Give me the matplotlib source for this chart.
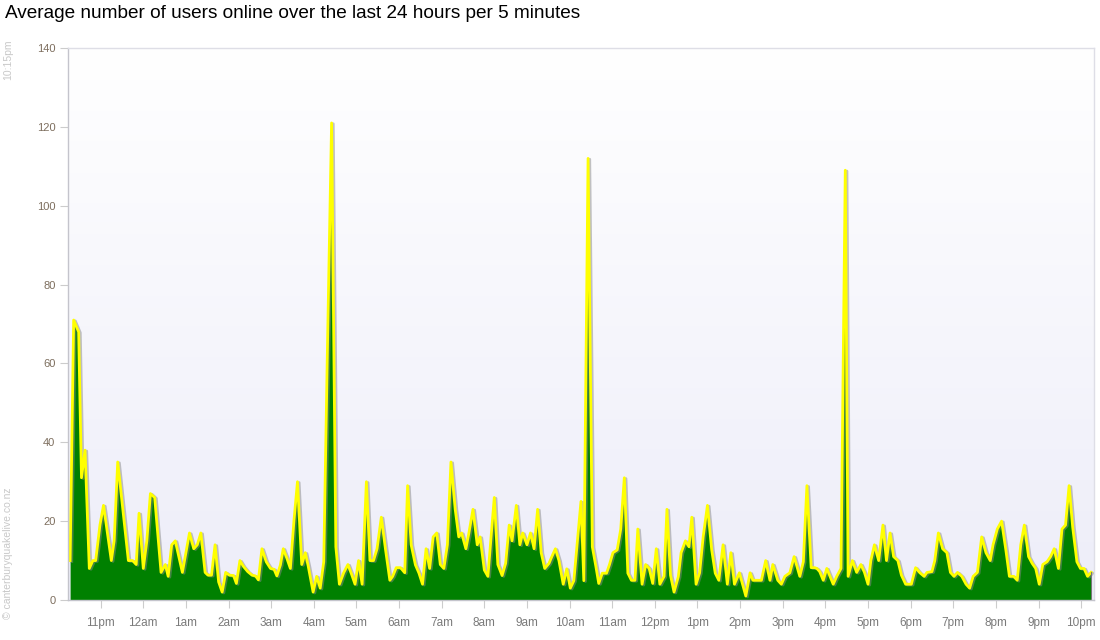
import matplotlib
matplotlib.use("Agg")
import matplotlib.pyplot as plt
import matplotlib.patheffects as pe
import numpy as np

plt.rcParams["font.family"] = ["Liberation Sans", "DejaVu Sans"]

TITLE = "Average number of users online over the last 24 hours per 5 minutes"

# minutes after 22:15 for each vertex of the line, and users online at that moment
minutes = [
    2, 7, 14, 18, 23, 29, 34, 38, 44, 49, 60, 64, 69, 84, 90, 95, 99, 105, 110, 115,
    121, 130, 136, 140, 145, 150, 155, 160, 170, 176, 181, 186, 192, 196, 201, 206, 211, 216, 221, 226,
    232, 236, 241, 246, 252, 258, 263, 267, 272, 278, 284, 289, 293, 298, 302, 307, 312, 317, 322, 328,
    333, 337, 344, 349, 354, 359, 364, 370, 376, 381, 387, 393, 398, 403, 408, 413, 419, 424, 429, 434,
    440, 446, 452, 456, 461, 467, 473, 477, 482, 488, 493, 498, 503, 508, 513, 518, 523, 528, 533, 538,
    544, 549, 553, 559, 563, 569, 575, 579, 585, 590, 595, 599, 604, 610, 615, 620, 624, 630, 635, 639,
    645, 650, 655, 660, 665, 670, 676, 680, 685, 690, 696, 701, 706, 711, 715, 721, 725, 731, 737, 742,
    746, 751, 757, 761, 766, 772, 777, 782, 787, 792, 797, 801, 807, 812, 817, 822, 827, 832, 838, 842,
    847, 852, 858, 862, 868, 873, 877, 883, 888, 893, 899, 905, 910, 915, 921, 927, 932, 937, 944, 953,
    959, 963, 975, 981, 987, 991, 998, 1003, 1008, 1015, 1021, 1029, 1034, 1039, 1045, 1050, 1053, 1057, 1062, 1067,
    1076, 1081, 1087, 1093, 1097, 1103, 1109, 1115, 1120, 1125, 1129, 1134, 1140, 1146, 1151, 1156, 1161, 1167, 1172, 1178,
    1186, 1192, 1198, 1204, 1208, 1215, 1219, 1224, 1230, 1236, 1241, 1246, 1251, 1257, 1263, 1268, 1273, 1279, 1285, 1291,
    1297, 1301, 1307, 1313, 1319, 1324, 1330, 1335, 1340, 1345, 1351, 1356, 1361, 1366, 1371, 1377, 1382, 1387, 1393, 1398,
    1403, 1408, 1413, 1419, 1424, 1429, 1434, 1439,
]
users = [
    10, 71, 68, 31, 38, 8, 10, 10, 19, 24, 10, 15, 35, 10, 10, 9, 22, 8, 15, 27,
    26, 7, 9, 6, 14, 15, 11, 7, 17, 13, 14, 17, 7, 6.3, 6.3, 14, 4.6, 2, 7, 6.3,
    6.2, 4.2, 10, 8.5, 7.2, 6.3, 6.1, 5.1, 13, 9.7, 8, 7.8, 6.1, 8.9, 13, 10.6, 8, 20, 30, 9,
    12, 8.7, 2, 6, 3, 9.7, 62, 121, 13.5, 4, 6.9, 9, 6.6, 4, 10, 4, 30, 10, 10, 13,
    21, 12.7, 5, 6, 8.2, 8.2, 6.9, 29, 14, 8.9, 6.8, 4, 13, 8, 16, 17, 9, 8, 14, 35,
    23, 16, 17, 13, 16.7, 23, 14, 16, 7.6, 6, 17, 26, 9, 6.2, 9.3, 19, 15, 24, 14, 17,
    14, 17, 13, 23, 12, 8, 9.3, 11, 13, 10, 4, 7.9, 3, 4.9, 13, 25, 4.9, 112, 13.5, 8.5,
    4.2, 6.8, 6.8, 8.9, 12, 12.7, 18, 31, 6.8, 5, 5, 18, 4, 9, 8, 4.2, 13, 4, 6, 23,
    6.3, 2, 5.9, 12, 15, 13.5, 21, 4, 6.9, 16, 24, 12.7, 6.8, 5, 14, 4, 12, 4, 6.9, 1,
    6.9, 5, 5, 10, 5, 9, 5, 4, 6, 6.9, 11, 6, 9.7, 29, 8.2, 8.2, 8, 7.2, 5, 8,
    4, 6, 8, 109, 6, 10, 7, 9, 7, 4, 10, 14, 10, 19, 10, 17, 11, 10, 6.3, 4,
    4, 8.2, 6.9, 6, 7, 7.2, 10, 17, 13, 12, 7, 6, 7, 6, 4, 3, 6, 7, 16, 12,
    10, 14, 18, 20, 12.7, 6, 6, 5, 14, 19, 11, 9.3, 8, 4, 9, 9.7, 11, 13, 8, 18,
    19, 29, 18.6, 9.7, 8, 8, 6, 7,
]
hour_labels = ["11pm", "12am", "1am", "2am", "3am", "4am", "5am", "6am", "7am", "8am", "9am", "10am",
               "11am", "12pm", "1pm", "2pm", "3pm", "4pm", "5pm", "6pm", "7pm", "8pm", "9pm", "10pm"]
y_ticks = [0, 20, 40, 60, 80, 100, 120, 140]

GREEN = "#008000"
YELLOW = "#ffff00"

fig = plt.figure(figsize=(11, 6.4), dpi=100)
ax = fig.add_axes([0.0618, 0.0625, 0.9327, 0.8625])

# soft white -> lavender background
grad = np.linspace(0, 1, 256).reshape(-1, 1)
top = np.array([1.0, 1.0, 1.0])
bottom = np.array([0.93, 0.93, 0.975])
img = top + (bottom - top) * grad[:, :, None]
ax.imshow(img, extent=[0, 1, 0, 1], transform=ax.transAxes, aspect="auto", zorder=0)

ax.fill_between(minutes, users, 0, color=GREEN, linewidth=0, zorder=2)
ax.plot(minutes, users, color=YELLOW, linewidth=2.0, solid_joinstyle="round", zorder=3,
        path_effects=[pe.SimpleLineShadow(offset=(1.2, -0.6), shadow_color="#888888", alpha=0.5),
                      pe.Normal()])
ax.plot([minutes[-1], minutes[-1]], [0, users[-1]], color="#777777", linewidth=0.8, zorder=3)

ax.set_xlim(-1, 1443)
ax.set_ylim(0, 140)

ax.set_xticks([45 + 60 * i for i in range(len(hour_labels))])
ax.set_xticklabels(hour_labels)
ax.set_yticks(y_ticks)
ax.set_yticklabels([str(v) for v in y_ticks])
ax.tick_params(axis="x", length=6, width=0.8, color="#cccccc", labelcolor="#7a7a7a",
               labelsize=8.5, pad=6)
ax.tick_params(axis="y", length=6, width=0.8, color="#cccccc", labelcolor="#7d6e5e",
               labelsize=8, pad=3)

for side in ["left", "bottom"]:
    ax.spines[side].set_color("#c4c4cc")
    ax.spines[side].set_linewidth(1)
for side in ["top", "right"]:
    ax.spines[side].set_color("#dedee6")
    ax.spines[side].set_linewidth(1)
for s in ax.spines.values():
    s.set_zorder(4)

fig.text(5 / 1100, 1 - 14 / 640, TITLE, fontsize=13.7, color="black", ha="left", va="center")
fig.text(8 / 1100, 1 - 60 / 640, "10:15pm", rotation=90, fontsize=7.5, color="#c8c8c8",
         ha="center", va="center")
fig.text(8 / 1100, 1 - 553 / 640, "© canterburyquakelive.co.nz", rotation=90, fontsize=7.5,
         color="#c8c8c8", ha="center", va="center")

fig.savefig("out.png", dpi=100)
